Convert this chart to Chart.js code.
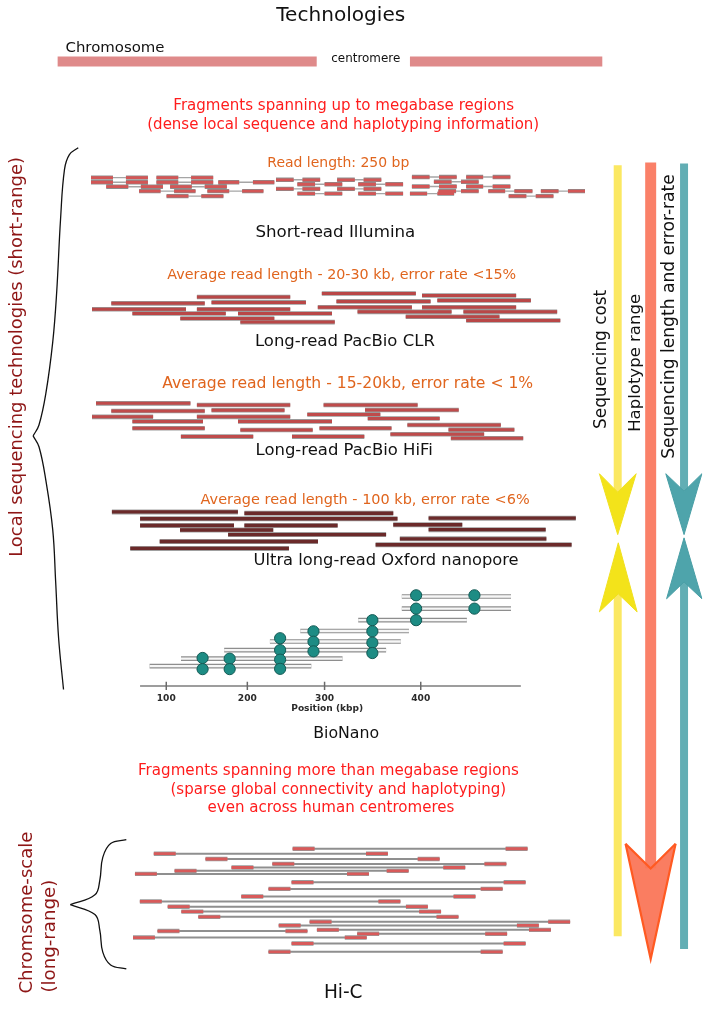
<!DOCTYPE html>
<html><head><meta charset="utf-8">
<script src="https://cdn.jsdelivr.net/npm/chart.js@4.4.1/dist/chart.umd.min.js"></script>
<style>html,body{margin:0;padding:0;background:#fff;}canvas{display:block;}</style>
</head><body>
<canvas id="c" width="709" height="1010"></canvas>
<script>
// ---------------- data (x = position units across the page, y = row level) ----------------
const chromosomeArms = [[52,316,55.7],[411,607,55.7]];

// Illumina read pairs: [read1 start, read1 end, read2 start, read2 end, row]
const illuminaPairs = [
 [86,108.4,121.6,144,173.3],[152.7,174.9,188,210.5,173.3],
 [413,431,440.6,458.6,172.7],[468.3,485.6,495.3,513.3,172.7],
 [274.5,292.5,301.5,319.5,175.5],[336.8,354.8,363.8,381.8,175.5],
 [86,108.4,121.6,144,178],[152.7,174.9,188,210.5,178],[215.7,237,251,272.8,178],
 [296.3,314.3,324,342,180],[358.3,376.3,386,404,180],[435.4,453.4,463,481,177.5],
 [101.5,124,136.8,159.3,182.5],[166.6,188.7,201.9,224.4,182.5],[413,431,440.6,458.6,182.3],[468.3,485.6,495.3,513.3,182.3],
 [274.5,292.5,301.5,319.5,184.7],[336.8,354.8,363.8,381.8,184.7],
 [135,156.9,170.7,192.5,187],[204.6,226.8,240,261.7,187],[440,458,463,481,187],[490.8,508,517.4,535.8,187],[544.4,562.4,572,589.4,187],
 [296.3,314.3,324,342,189.5],[358.3,376.3,386,404,189.5],[411,428.5,439,456,189.5],
 [163,185.3,198.4,220.9,192],[511.6,529.6,539.2,557.2,192]
];

// PacBio CLR reads: [start, end, row]
const clrReads = [
 [193.9,289,294.3],[106.7,201.9,300.7],[208.8,305,299.7],[87,182.8,306.7],[193.9,289,306.7],
 [128.2,223.3,311],[235.8,331.6,311],[177,272.8,316],[238.2,334.4,319.7],
 [321.2,417,290.7],[423.3,519.2,292.7],[336.1,432,298.7],[438.9,534.2,297.7],
 [317.1,413,304.7],[423.3,519.2,304.7],[357.6,453.4,309.3],[465.5,561,309.3],
 [406.7,502.2,314.3],[468.3,564.2,318]
];

// PacBio HiFi reads
const hifiReads = [
 [91.1,187.3,402],[193.9,289,403.7],[323,418.8,403.7],[106.7,201.9,409.7],[208.8,283.2,409],
 [365.2,460.7,408.7],[87,149.3,415.7],[193.9,289,415.7],[306.4,380.8,413.3],[128.2,200.1,420.3],
 [235.8,331.6,420.3],[368,441.3,417.3],[408.4,503.6,424],[128.2,201.9,427.3],[238.2,311.9,429],
 [318.8,392.2,427.3],[450.3,517.4,428.7],[177.6,251.3,435.7],[290.8,364.5,435.7],
 [391.1,486.6,433.3],[452.7,526.4,437.3]
];

// Oxford nanopore reads
const nanoporeReads = [
 [107.3,235.7,512],[242.3,394,513.3],[136,398.3,519],[430,580,518.3],[136,231.7,525.7],
 [242.3,337.3,525.7],[394,464.3,525],[176.7,271.7,530.3],[430,549.3,530],[225.7,386.7,535],
 [400.7,550,539.3],[156,317.3,542],[376,575.7,545.3],[126,287.7,549]
];

// BioNano molecules [start, end, row] and labels (dots) [position, row]
const bionanoMolecules = [
 [402.7,514,597.7],[402.7,514,610],[358.3,469,621.7],[299.3,410,632.7],
 [268.3,401.7,643.3],[221.7,386.7,652],[177.7,342.3,660.7],[145.7,310.5,668.3]
];
const bionanoLabels = [
 [417.3,596.5],[476.7,596.5],[417.3,610],[476.7,610],[372.7,621.7],[417.3,621.7],
 [312.7,633],[372.7,633],[278.7,640],[312.7,643.5],[372.7,644.5],
 [278.7,652],[312.7,653.3],[372.7,655],[199.7,660],[227.3,660.7],[278.7,661.7],
 [199.7,671.3],[227.3,671.3],[278.7,671]
];
const bionanoAxis = [[136,524,688.3]];
const bionanoTickValues = ['100','200','300','400'];
const bionanoTickPos = [162.7,245.3,324,422];

// Hi-C read pairs: [left read start, right read end, row]
const hicPairs = [
 [291.5,530.8,853.3],[150,388.5,858.3],[202.7,441.2,863.7],[270.8,509.2,868.7],[229.2,467.3,872.3],
 [171.2,409.6,875.7],[130.8,369.2,878.8],[290.4,528.8,887.3],[266.9,505.4,894],[239.2,477.7,901.7],
 [135.8,401.2,906.7],[164.2,429.2,912],[178.1,442.7,917],[195.4,460.4,922.3],[308.8,574.2,927.3],
 [277.3,542.3,931],[153.8,306.5,936.7],[316.2,554.6,935.5],[357.3,510,939.5],[128.8,366.9,943.3],
 [290.4,528.8,949.3],[266.9,505.4,957.7]
];
const hicReadLength = 22.3;

// Trend arrows
const yellowShaft = [[622.7,160.7,492],[622.7,595,942]];
const orangeShaft = [[656.3,158,873]];
const tealShaft = [[690.3,159,491],[690.3,583,955]];
const heads = {
 yellowDown:{xl:604,xr:641.5,xc:622.7,base:473.3,notch:492,tip:535},
 yellowUp:{xl:604,xr:642.5,xc:623.3,base:613.3,notch:595,tip:543.3},
 tealDown:{xl:671.7,xr:708.5,xc:690.3,base:473.3,notch:491,tip:535},
 tealUp:{xl:672.5,xr:708.5,xc:690.3,base:600,notch:583,tip:538.3},
 orangeDown:{xl:630.7,xr:681.7,xc:656.3,base:848.3,notch:873.3,tip:965}
};

// Braces
const braceLocalUpper = [[73,143],[64,150],[59,165],[55,215],[51,290],[47,340],[40,392],[33,424],[27,435]];
const braceLocalLower = [[27,435],[33,446],[40,480],[47,530],[50,583],[53,640],[58,692]];
const braceHicUpper = [[122,844],[106,848],[98,862],[95,885],[90,900],[65,910]];
const braceHicLower = [[65,910],[90,920],[95,936],[98,958],[106,971],[122,975]];

// ---------------- text ----------------
const RED='#ff1c1c', ORANGE='#e0651e', DARKRED='#8e1616', BLACK='#111111';
const LABELS = [
 {t:'Technologies',x:340.5,y:9.5,w:129,c:BLACK},
 {t:'Chromosome',x:60,y:42,w:99,c:BLACK,a:'left'},
 {t:'centromere',x:366,y:53.5,w:69,c:BLACK},
 {t:'Fragments spanning up to megabase regions',x:343.5,y:101,w:341,c:RED},
 {t:'(dense local sequence and haplotyping information)',x:343,y:120.5,w:392,c:RED},
 {t:'Read length: 250 bp',x:338,y:159,w:142,c:ORANGE},
 {t:'Short-read Illumina',x:335,y:229.5,w:160,c:BLACK},
 {t:'Average read length - 20-30 kb, error rate <15%',x:341.5,y:272,w:349,c:ORANGE},
 {t:'Long-read PacBio CLR',x:344.7,y:340,w:180,c:BLACK},
 {t:'Average read length - 15-20kb, error rate < 1%',x:347.6,y:382,w:371,c:ORANGE},
 {t:'Long-read PacBio HiFi',x:344,y:450.5,w:177.5,c:BLACK},
 {t:'Average read length - 100 kb, error rate <6%',x:365.3,y:500,w:329.3,c:ORANGE},
 {t:'Ultra long-read Oxford nanopore',x:386.7,y:561.7,w:265.3,c:BLACK},
 {t:'Position (kbp)',x:326.7,y:711.7,w:72,c:'#2a2a2a',b:'bold'},
 {t:'BioNano',x:346,y:736.7,w:66,c:BLACK},
 {t:'Fragments spanning more than megabase regions',x:328,y:775,w:381,c:RED},
 {t:'(sparse global connectivity and haplotyping)',x:338,y:794,w:336,c:RED},
 {t:'even across human centromeres',x:330.5,y:812.5,w:247,c:RED},
 {t:'Hi-C',x:343,y:1000,w:38.7,c:BLACK},
 {t:'Local sequencing technologies (short-range)',x:11,y:355,w:400,c:DARKRED,r:-90},
 {t:'Chromsome-scale',x:21,y:1000,w:162,c:DARKRED,r:-90,a:'left'},
 {t:'(long-range)',x:45,y:999,w:113,c:DARKRED,r:-90,a:'left'},
 {t:'Sequencing cost',x:606,y:357.5,w:139,c:BLACK,r:-90},
 {t:'Haplotype range',x:640.7,y:361,w:138,c:BLACK,r:-90},
 {t:'Sequencing length and error-rate',x:676,y:314,w:285,c:BLACK,r:-90}
];
bionanoTickValues.forEach((v,i)=>LABELS.push({t:v,x:bionanoTickPos[i],y:701,w:19,c:'#2a2a2a',b:'bold'}));

// ---------------- build datasets ----------------
const DS = [];
function pts(list){ return list.map(p=>p===null?null:{x:p[0],y:p[1]}); }
function addLine(points, opt){
  const data=[]; let lastX=0;
  points.forEach(p=>{ if(p===null){data.push({x:lastX,y:null});} else {data.push(p); lastX=p.x;} });
  DS.push(Object.assign({type:'line',data,pointRadius:0,borderWidth:1,fill:false,tension:0,spanGaps:false,borderCapStyle:'butt'},opt));
}
function hSegs(list){ const out=[]; list.forEach(([a,b,y])=>{out.push({x:a,y},{x:b,y},null);}); return out; }
function vSegs(list){ const out=[]; list.forEach(([x,a,b])=>{out.push({x,y:a},{x,y:b},null);}); return out; }
function reads(list, fill, border, w){
  addLine(hSegs(list),{borderColor:border,borderWidth:w+1.6});
  addLine(hSegs(list),{borderColor:fill,borderWidth:w});
}
function head(h, fillColor, lineColor, lw){
  addLine(pts([[h.xl,h.base],[h.xc,h.tip],[h.xr,h.base]]),{borderColor:lineColor,borderWidth:lw,fill:'+1',backgroundColor:fillColor,borderJoinStyle:'miter'});
  addLine(pts([[h.xl,h.base],[h.xc,h.notch],[h.xr,h.base]]),{borderColor:lineColor,borderWidth:lw,borderJoinStyle:'miter'});
}

// chromosome
addLine(hSegs(chromosomeArms),{borderColor:'#df8a8a',borderWidth:10});

// Illumina
const illConn=[], illReads=[];
illuminaPairs.forEach(([a,b,c,d,y])=>{illConn.push([b,c,y]); illReads.push([a,b,y],[c,d,y]);});
addLine(hSegs(illConn),{borderColor:'#a5a5a5',borderWidth:1.4});
reads(illReads,'#d35656','#8d8d8d',2.8);

// long reads
reads(clrReads,'#b94747','#9a9a9a',3);
reads(hifiReads,'#bf4b4b','#9a9a9a',3);
reads(nanoporeReads,'#6b2a2a','#a0a0a0',3.4);

// BioNano
addLine(hSegs(bionanoAxis),{borderColor:'#7c7c7c',borderWidth:1.5});
addLine(vSegs(bionanoTickPos.map(x=>[x,684,692.5])),{borderColor:'#6a6a6a',borderWidth:1.5});
addLine(hSegs(bionanoMolecules),{borderColor:'#8e8e8e',borderWidth:4.6});
addLine(hSegs(bionanoMolecules),{borderColor:'#f6f6f6',borderWidth:2.4});
DS.push({type:'line',data:pts(bionanoLabels),showLine:false,pointRadius:5.6,pointBackgroundColor:'#1d8c84',pointBorderColor:'#135a55',pointBorderWidth:1});

// Hi-C
const hicLinks=[], hicReads=[];
hicPairs.forEach(([a,b,y])=>{hicLinks.push([a,b,y]); hicReads.push([a,a+hicReadLength,y],[b-hicReadLength,b,y]);});
addLine(hSegs(hicLinks),{borderColor:'#8f8f8f',borderWidth:2});
reads(hicReads,'#d85a5a','#9a9a9a',2.8);

// braces
[braceLocalUpper,braceLocalLower,braceHicUpper,braceHicLower].forEach(b=>addLine(pts(b),{borderColor:'#111',borderWidth:1.3,tension:0.4}));

// arrows
addLine(vSegs(yellowShaft),{borderColor:'#fbe862',borderWidth:8});
addLine(vSegs(orangeShaft),{borderColor:'#fa8068',borderWidth:11});
addLine(vSegs(tealShaft),{borderColor:'#62aeb4',borderWidth:8});
head(heads.yellowDown,'#f3e31a','#f0e020',1);
head(heads.yellowUp,'#f3e31a','#f0e020',1);
head(heads.tealDown,'#4ea4ab','#4a9fa6',1);
head(heads.tealUp,'#4ea4ab','#4a9fa6',1);
head(heads.orangeDown,'rgba(250,118,88,0.95)','#ff5a22',2.2);

const N=DS.length; DS.forEach((d,i)=>{d.order=N-i;});

// ---------------- text plugin ----------------
const textPlugin={id:'texts',afterDatasetsDraw(chart){
  const {ctx,scales:{x,y}}=chart;
  LABELS.forEach(l=>{
    ctx.save();
    const wt=l.b||'normal';
    ctx.font=`${wt} 100px "DejaVu Sans"`;
    const m=ctx.measureText(l.t).width;
    const size=100*l.w/m;
    ctx.font=`${wt} ${size.toFixed(2)}px "DejaVu Sans"`;
    ctx.translate(x.getPixelForValue(l.x),y.getPixelForValue(l.y));
    if(l.r) ctx.rotate(l.r*Math.PI/180);
    ctx.fillStyle=l.c; ctx.textAlign=l.a||'center'; ctx.textBaseline='middle';
    ctx.fillText(l.t,0,0);
    ctx.restore();
  });
}};

new Chart(document.getElementById('c'),{
  type:'line',
  data:{datasets:DS},
  options:{
    responsive:false,animation:false,events:[],
    layout:{padding:0},
    plugins:{legend:{display:false},tooltip:{enabled:false},title:{display:false}},
    scales:{
      x:{type:'linear',min:0,max:709,display:false},
      y:{type:'linear',min:0,max:1010,reverse:true,display:false}
    }
  },
  plugins:[textPlugin]
});
</script>
</body></html>
